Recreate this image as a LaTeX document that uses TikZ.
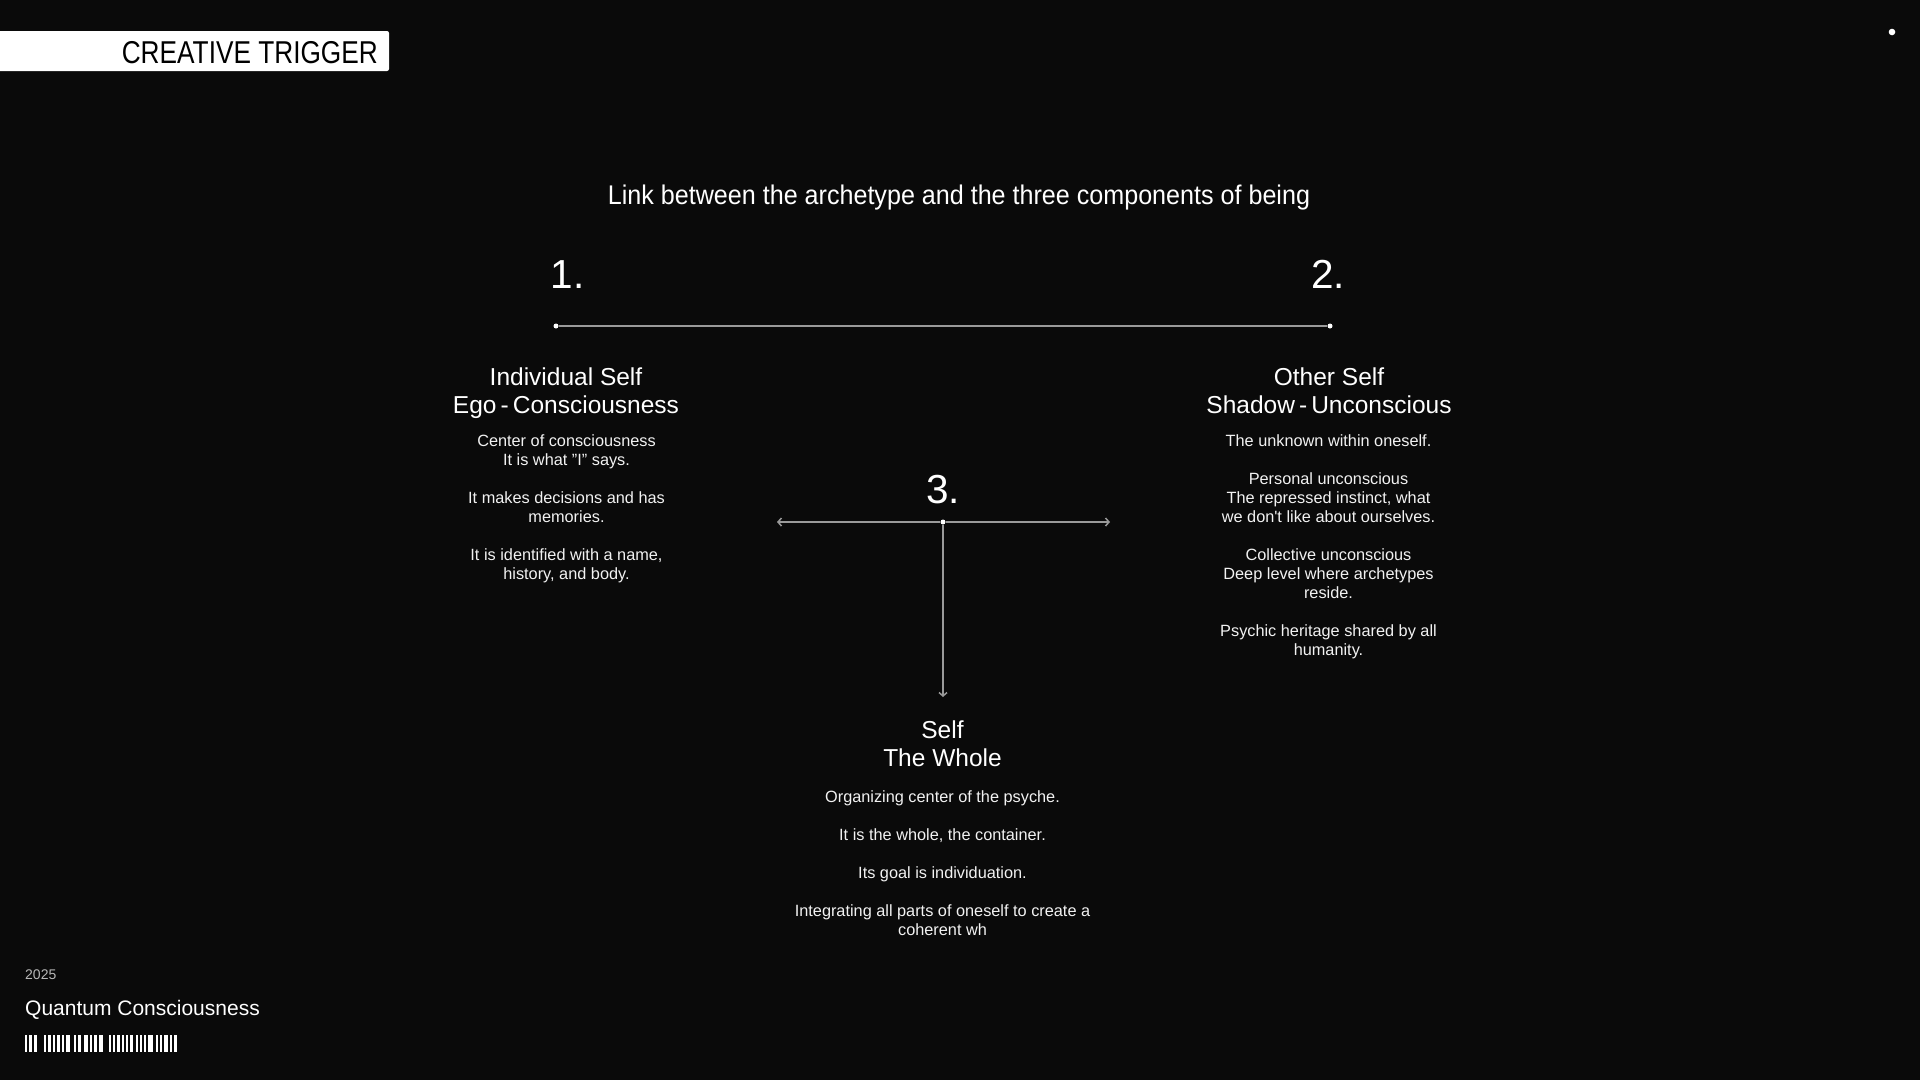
\documentclass[tikz,border=0pt]{standalone}
\usepackage{fontspec}
\setmainfont{Liberation Sans}
\newfontfamily\subfont[FakeStretch=0.93]{Liberation Sans}
\newfontfamily\brandfont[FakeStretch=0.83]{Liberation Sans}
\usetikzlibrary{arrows.meta}

\definecolor{bgdark}{HTML}{0A0A0A}
\definecolor{linegray}{HTML}{9A9A9A}
\definecolor{softwhite}{HTML}{F2F2F2}
\definecolor{dategray}{HTML}{B8B8B8}

\tikzset{
  numlabel/.style={text=white, inner sep=0pt, anchor=base, font=\fontsize{40.5}{44}\selectfont},
  headtxt/.style={text=white, inner sep=0pt, anchor=north, align=center, font=\fontsize{24.5}{28}\selectfont},
  bodytxt/.style={text=softwhite, inner sep=0pt, anchor=north, align=center, font=\fontsize{16.3}{19}\selectfont},
  enddot/.style={circle, fill=white, inner sep=0pt, minimum size=5pt},
  link/.style={draw=linegray, line width=1.5pt},
}

\begin{document}
\begin{tikzpicture}[x=1pt, y=-1pt, >={Straight Barb[length=3.5pt,width=8pt]}]

    % Background
    \fill[bgdark] (0,0) rectangle (1920,1080);
    \useasboundingbox (0,0) rectangle (1920,1080);

    % Brand tag (top left) and corner dot
    \fill[white, rounded corners=2pt] (-6,31) rectangle (389,71);
    \node[anchor=base east, inner sep=0pt, text=black, font=\brandfont\fontsize{31.6}{36}\selectfont] (brand) at (378,63.3) {CREATIVE TRIGGER};
    \node[enddot, minimum size=6.6pt] (cornerdot) at (1892,32) {};

    % Subtitle
    \node[anchor=base, inner sep=0pt, text=white, font=\subfont\fontsize{27}{31}\selectfont] (subtitle) at (959,204) {Link between the archetype and the three components of being};

    % Numbers
    \node[numlabel] (num1) at (567.5,288) {1.};
    \node[numlabel] (num2) at (1328,288) {2.};
    \node[numlabel] (num3) at (943,503) {3.};

    % Link 1 -- 2
    \node[enddot] (dotA) at (556,326) {};
    \node[enddot] (dotB) at (1330,326) {};
    \draw[link] (dotA) -- (dotB);

    % Hub of 3
    \node[enddot] (hub) at (943,522) {};
    \coordinate (westEnd) at (777,522);
    \coordinate (eastEnd) at (1110,522);
    \coordinate (southEnd) at (943,697);
    \draw[link, ->] (hub) -- (westEnd);
    \draw[link, ->] (hub) -- (eastEnd);
    \draw[link, ->] (hub) -- (southEnd);

    % Individual Self
    \node[headtxt] (head1) at (566,365.4) {\strut Individual Self\\Ego\,-\,Consciousness};
    \node[bodytxt] (body1) at (566.5,432.7) {\strut Center of consciousness\\It is what "I" says.\\[19pt]It makes decisions and has\\memories.\\[19pt]It is identified with a name,\\history, and body.};

    % Other Self
    \node[headtxt] (head2) at (1329,365.4) {\strut Other Self\\Shadow\,-\,Unconscious};
    \node[bodytxt] (body2) at (1328.5,432.7) {\strut The unknown within oneself.\\[19pt]Personal unconscious\\The repressed instinct, what\\we don\textquotesingle t like about ourselves.\\[19pt]Collective unconscious\\Deep level where archetypes\\reside.\\[19pt]Psychic heritage shared by all\\humanity.};

    % Self
    \node[headtxt] (head3) at (942.5,718.4) {\strut Self\\The Whole};
    \node[bodytxt] (body3) at (942.5,788.7) {\strut Organizing center of the psyche.\\[19pt]It is the whole, the container.\\[19pt]Its goal is individuation.\\[19pt]Integrating all parts of oneself to create a\\coherent wh};

    % Footer (bottom left)
    \node[anchor=base west, inner sep=0pt, text=dategray, font=\fontsize{14}{16}\selectfont] (year) at (25,979) {2025};
    \node[anchor=base west, inner sep=0pt, text=white, font=\fontsize{21}{24}\selectfont] (project) at (25,1015) {Quantum Consciousness};
    \foreach \a/\w in {0/2, 4/2.5, 9/3,
                       19/2, 23/3, 28/2, 32/3, 37/2, 41/4,
                       49/2, 53/3, 59/4, 65/2, 69/3, 74/4,
                       84/2, 88/2, 92/3, 97/2, 101/2, 105/3,
                       111/2, 115/2, 119/1.5, 123/5,
                       131/2, 135/1.5, 139/4, 145/2, 149/3}
        \fill[white] (25+\a,1035) rectangle ++(\w,17);

\end{tikzpicture}
\end{document}
